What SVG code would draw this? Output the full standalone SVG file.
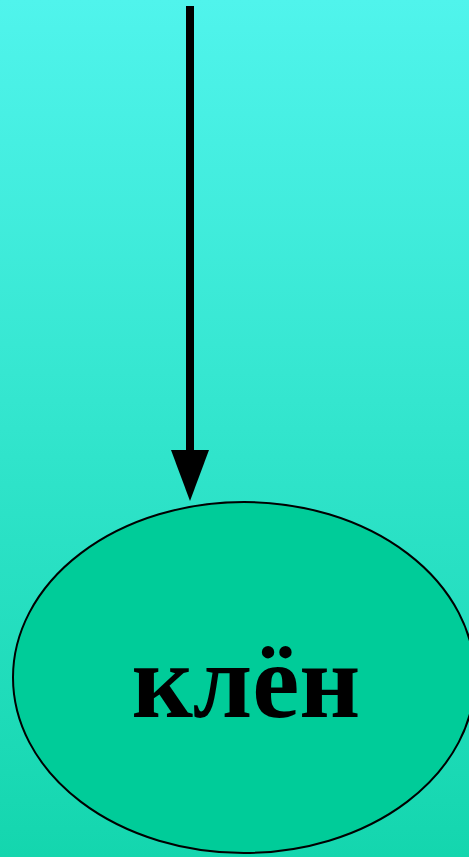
<svg xmlns="http://www.w3.org/2000/svg" width="469" height="857" viewBox="0 0 469 857">
<defs>
<linearGradient id="bg" x1="0" y1="0" x2="0" y2="1">
<stop offset="0" stop-color="#50f4ec"/>
<stop offset="1" stop-color="#14d6ae"/>
</linearGradient>
<style>
.node{fill:#00cc99;stroke:#000;stroke-width:2}
.lbl{font-family:"Liberation Serif",serif;font-weight:bold;font-size:106px;fill:#000;text-anchor:middle}
.edge{stroke:#000;stroke-width:8;fill:none}
</style>
</defs>
<rect width="469" height="857" fill="url(#bg)"/>
<g id="connectors">
<line class="edge" x1="190" y1="6" x2="190" y2="452"/>
<polygon points="171,450 209,450 190,501" fill="#000"/>
</g>
<g id="node-klen">
<ellipse class="node" cx="244" cy="677.5" rx="231" ry="175.5"/>
<text class="lbl" x="246" y="717">клён</text>
</g>
</svg>
